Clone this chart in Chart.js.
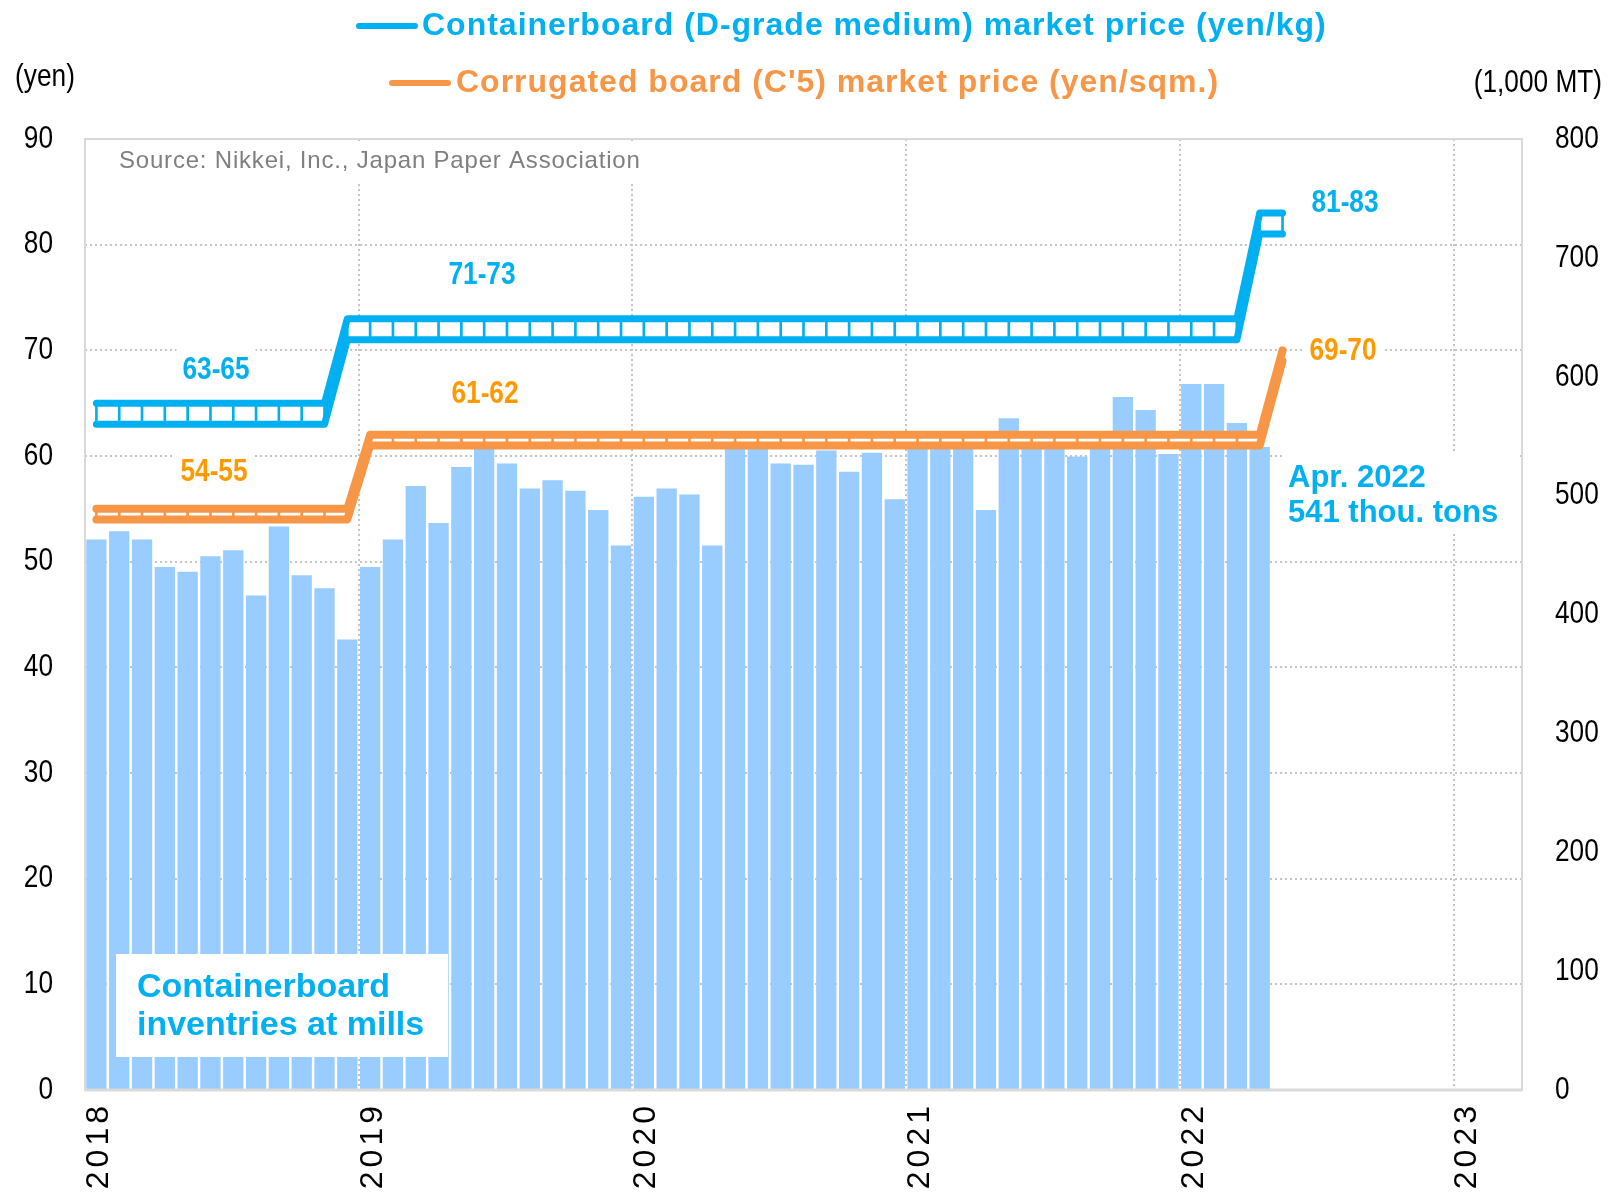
<!DOCTYPE html>
<html>
<head>
<meta charset="utf-8">
<script src="https://cdn.jsdelivr.net/npm/chart.js@4.4.1/dist/chart.umd.min.js"></script>
<style>
html, body { margin: 0; padding: 0; background: #fff; }
#wrap { width: 1608px; height: 1192px; }
</style>
</head>
<body>
<div id="wrap"><canvas id="chart" width="1608" height="1192"></canvas></div>
<script>
// x ticks: one per year, at the January boundary
const years = ['2018', '2019', '2020', '2021', '2022', '2023'];

// containerboard inventories at mills (1,000 MT), Jan 2018 - Apr 2022
const inventory = [
  463, 470, 463, 440, 436, 449, 454, 416, 474, 433, 422, 379,
  440, 463, 508, 477, 524, 546, 527, 506, 513, 504, 488, 458,
  499, 506, 501, 458, 550, 550, 527, 526, 538, 520, 536, 497,
  550, 548, 540, 488, 565, 549, 547, 533, 550, 583, 572, 535,
  594, 594, 561, 541
];

// containerboard (D-grade medium) price range, yen/kg, Jan 2018 - May 2022
const boardHigh = [
  65, 65, 65, 65, 65, 65, 65, 65, 65, 65, 65, 73,
  73, 73, 73, 73, 73, 73, 73, 73, 73, 73, 73, 73,
  73, 73, 73, 73, 73, 73, 73, 73, 73, 73, 73, 73,
  73, 73, 73, 73, 73, 73, 73, 73, 73, 73, 73, 73,
  73, 73, 73, 83, 83
];
const boardLow = [
  63, 63, 63, 63, 63, 63, 63, 63, 63, 63, 63, 71,
  71, 71, 71, 71, 71, 71, 71, 71, 71, 71, 71, 71,
  71, 71, 71, 71, 71, 71, 71, 71, 71, 71, 71, 71,
  71, 71, 71, 71, 71, 71, 71, 71, 71, 71, 71, 71,
  71, 71, 71, 81, 81
];

// corrugated board (C'5) price range, yen/sqm, Jan 2018 - May 2022
const corrHigh = [
  55, 55, 55, 55, 55, 55, 55, 55, 55, 55, 55, 55,
  62, 62, 62, 62, 62, 62, 62, 62, 62, 62, 62, 62,
  62, 62, 62, 62, 62, 62, 62, 62, 62, 62, 62, 62,
  62, 62, 62, 62, 62, 62, 62, 62, 62, 62, 62, 62,
  62, 62, 62, 62, 70
];
const corrLow = [
  54, 54, 54, 54, 54, 54, 54, 54, 54, 54, 54, 54,
  61, 61, 61, 61, 61, 61, 61, 61, 61, 61, 61, 61,
  61, 61, 61, 61, 61, 61, 61, 61, 61, 61, 61, 61,
  61, 61, 61, 61, 61, 61, 61, 61, 61, 61, 61, 61,
  61, 61, 61, 61, 69
];

const BLUE = '#00B0F0';
const ORANGE = '#F79646';
const ORANGE_TXT = '#FF9900';
const BAR = '#99CCFF';
const SANS = '"Liberation Sans", Arial, sans-serif';
const NARROW = 0.82; // no Arial Narrow here, so squeeze Liberation Sans instead

// month i sits in the middle of its slot on the linear x axis
const pts = arr => arr.map((v, i) => ({ x: i + 0.5, y: v }));
const rungs = (lo, hi) => lo.map((v, i) => ({ x: i + 0.5, y: [v, hi[i]] }));

function priceLine(data, color, width, order, fill) {
  return {
    type: 'line', data: pts(data), yAxisID: 'y', order,
    borderColor: color, borderWidth: width, backgroundColor: '#FFFFFF',
    fill: fill ? '+1' : false, pointRadius: 0, pointHoverRadius: 0,
    tension: 0, borderCapStyle: 'round', borderJoinStyle: 'round'
  };
}

// grey frame round the plot, like the Excel plot area
const framePlugin = {
  id: 'frame',
  afterDatasetsDraw(chart) {
    const { ctx, chartArea: a } = chart;
    ctx.save();
    ctx.strokeStyle = '#D9D9D9';
    ctx.lineWidth = 2;
    ctx.strokeRect(a.left, a.top, a.right - a.left, a.bottom - a.top);
    ctx.lineWidth = 3;
    ctx.beginPath();
    ctx.moveTo(a.left, a.bottom);
    ctx.lineTo(a.right, a.bottom);
    ctx.stroke();
    ctx.restore();
  }
};

// year labels spread out, value labels squeezed like Arial Narrow
const labelStylePlugin = {
  id: 'labelStyle',
  afterLayout(chart) {
    const x = chart.scales.x;
    if (!x._styled) {
      const orig = x.drawLabels;
      x.drawLabels = function (area) {
        this.ctx.save();
        this.ctx.letterSpacing = '4px';
        orig.call(this, area);
        this.ctx.restore();
      };
      x._styled = true;
    }
    ['y', 'y2'].forEach(id => {
      const s = chart.scales[id];
      if (s._styled) return;
      const orig = s.drawLabels;
      s.drawLabels = function (area) {
        const pad = this.options.ticks.padding;
        const ax = id === 'y' ? this.right - pad : this.left + pad;
        const c = this.ctx;
        c.save();
        c.translate(ax, 0);
        c.scale(NARROW, 1);
        c.translate(-ax, 0);
        orig.call(this, area);
        c.restore();
      };
      s._styled = true;
    });
  }
};

function text(ctx, str, x, y, font, color, align, base, spacing, squeeze) {
  ctx.save();
  ctx.font = font;
  ctx.fillStyle = color;
  ctx.textAlign = align || 'left';
  ctx.textBaseline = base || 'alphabetic';
  ctx.letterSpacing = spacing || '0px';
  ctx.translate(x, y);
  if (squeeze) ctx.scale(NARROW, 1);
  ctx.fillText(str, 0, 0);
  ctx.restore();
}

// price range label on a white text box (hides the grid behind it)
function rangeLabel(ctx, str, x, y, color) {
  ctx.save();
  ctx.font = 'bold 32px ' + SANS;
  const w = ctx.measureText(str).width * NARROW + 12;
  ctx.fillStyle = '#FFFFFF';
  ctx.fillRect(x - w / 2, y - 22, w, 44);
  ctx.restore();
  text(ctx, str, x, y, 'bold 32px ' + SANS, color, 'center', 'middle', '0px', true);
}

const notesPlugin = {
  id: 'notes',
  afterDraw(chart) {
    const ctx = chart.ctx;
    ctx.save();

    // legend
    ctx.lineCap = 'round';
    ctx.lineWidth = 6;
    ctx.strokeStyle = BLUE;
    ctx.beginPath(); ctx.moveTo(359, 26); ctx.lineTo(415, 26); ctx.stroke();
    ctx.strokeStyle = ORANGE;
    ctx.beginPath(); ctx.moveTo(392, 83); ctx.lineTo(448, 83); ctx.stroke();
    text(ctx, 'Containerboard (D-grade medium) market price (yen/kg)', 422, 26,
      'bold 32px ' + SANS, BLUE, 'left', 'middle', '1px');
    text(ctx, "Corrugated board (C'5) market price (yen/sqm.)", 456, 83,
      'bold 32px ' + SANS, ORANGE, 'left', 'middle', '1px');

    // axis units
    text(ctx, '(yen)', 45, 77, '32px ' + SANS, '#000', 'center', 'middle', '0px', true);
    text(ctx, '(1,000 MT)', 1602, 83, '32px ' + SANS, '#000', 'right', 'middle', '0px', true);

    // source note box
    ctx.fillStyle = '#FFFFFF';
    ctx.fillRect(108, 141, 536, 40);
    text(ctx, 'Source: Nikkei, Inc., Japan Paper Association', 119, 168,
      '24px ' + SANS, '#7F7F7F', 'left', 'alphabetic', '0.8px');

    // price ranges
    rangeLabel(ctx, '63-65', 216, 370, BLUE);
    rangeLabel(ctx, '71-73', 482, 275, BLUE);
    rangeLabel(ctx, '81-83', 1345, 203, BLUE);
    rangeLabel(ctx, '54-55', 214, 472, ORANGE_TXT);
    rangeLabel(ctx, '61-62', 485, 394, ORANGE_TXT);
    rangeLabel(ctx, '69-70', 1343, 351, ORANGE_TXT);

    // latest inventory
    ctx.fillStyle = '#FFFFFF';
    ctx.fillRect(1282, 452, 236, 80);
    text(ctx, 'Apr. 2022', 1288, 487, 'bold 31px ' + SANS, BLUE);
    text(ctx, '541 thou. tons', 1288, 522, 'bold 31px ' + SANS, BLUE);

    // series label box
    ctx.fillStyle = '#FFFFFF';
    ctx.fillRect(116, 954, 332, 103);
    text(ctx, 'Containerboard', 137, 997, 'bold 34px ' + SANS, BLUE);
    text(ctx, 'inventries at mills', 137, 1035, 'bold 34px ' + SANS, BLUE);

    ctx.restore();
  }
};

new Chart(document.getElementById('chart'), {
  type: 'bar',
  data: {
    datasets: [
      {
        type: 'bar', label: 'Containerboard inventries at mills', data: pts(inventory),
        yAxisID: 'y2', order: 10, grouped: false,
        backgroundColor: BAR, barPercentage: 0.89, categoryPercentage: 1.0
      },
      priceLine(boardHigh, BLUE, 7, 4, true),
      priceLine(boardLow, BLUE, 7, 3, false),
      {
        type: 'bar', data: rungs(boardLow, boardHigh), yAxisID: 'y', order: 2,
        grouped: false, backgroundColor: BLUE, barThickness: 2
      },
      priceLine(corrHigh, ORANGE, 8, 8, true),
      priceLine(corrLow, ORANGE, 8, 7, false),
      {
        type: 'bar', data: rungs(corrLow, corrHigh), yAxisID: 'y', order: 6,
        grouped: false, backgroundColor: ORANGE, barThickness: 2
      }
    ]
  },
  options: {
    responsive: false,
    animation: false,
    devicePixelRatio: 1,
    layout: { padding: { top: 139, left: 0, right: 0, bottom: 0 } },
    plugins: { legend: { display: false }, tooltip: { enabled: false } },
    scales: {
      x: {
        type: 'linear', min: 0, max: 63, offset: false,
        afterBuildTicks: s => { s.ticks = years.map((y, i) => ({ value: i * 12 })); },
        afterFit: s => { s.height = 102; },
        ticks: {
          callback: (v, i) => years[i],
          minRotation: 90, maxRotation: 90, autoSkip: false,
          padding: 12, labelOffset: 14, color: '#000',
          font: { family: SANS, size: 32 }
        },
        grid: {
          offset: false, drawTicks: false, lineWidth: 2,
          color: c => (c.tick && c.tick.value === 0) ? 'rgba(0,0,0,0)' : '#C4C4C4'
        },
        border: { display: false, dash: [2, 3] }
      },
      y: {
        position: 'left', min: 0, max: 90,
        afterFit: s => { s.width = 85; },
        ticks: { stepSize: 10, padding: 32, color: '#000', font: { family: SANS, size: 32 } },
        grid: { drawTicks: false, lineWidth: 2, color: '#C4C4C4' },
        border: { display: false, dash: [2, 3] }
      },
      y2: {
        position: 'right', min: 0, max: 800,
        afterFit: s => { s.width = 86; },
        ticks: { stepSize: 100, padding: 33, color: '#000', font: { family: SANS, size: 32 } },
        grid: { display: false, drawTicks: false },
        border: { display: false }
      }
    }
  },
  plugins: [labelStylePlugin, framePlugin, notesPlugin]
});
</script>
</body>
</html>
